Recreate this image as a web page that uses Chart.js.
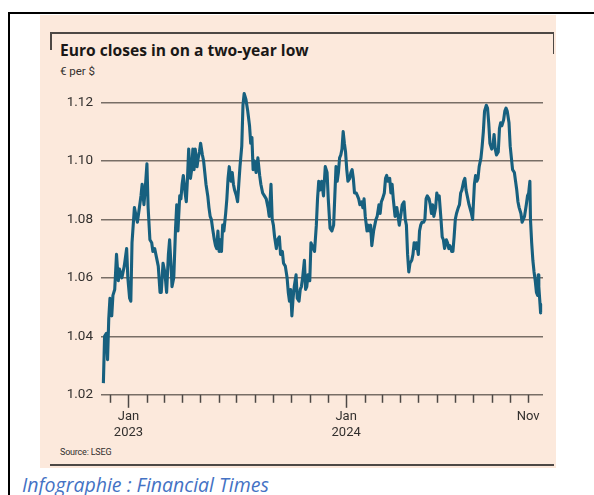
<!DOCTYPE html>
<html>
<head>
<meta charset="utf-8">
<script src="https://cdn.jsdelivr.net/npm/chart.js@4.4.1/dist/chart.umd.min.js"></script>
<style>
  html, body { margin: 0; padding: 0; background: #fff; }
  body { width: 594px; height: 495px; position: relative; overflow: hidden; font-family: Roboto, sans-serif; }
  .abs { position: absolute; }
  .rule { position: absolute; background: #4d4845; }
  #panel { left: 40px; top: 15px; width: 516px; height: 453px; background: #fce9dc; }
  #title { left: 60px; top: 39px; font: 700 15.6px "Open Sans", sans-serif; color: #1a1817; white-space: nowrap; }
  #unit { left: 60px; top: 64px; font: 11.5px Roboto, sans-serif; color: #33302e; }
  #source { left: 60px; top: 447px; font: 9px Roboto, sans-serif; color: #33302e; letter-spacing: -0.2px; }
  #caption { left: 22px; top: 471px; font: italic 19.5px "Open Sans", sans-serif; color: #4472c4; white-space: nowrap; }
  #wrap { left: 40px; top: 15px; width: 516px; height: 450px; }
</style>
</head>
<body>
<div class="abs" style="left:8px;top:12px;width:586px;height:2px;background:#000"></div>
<div class="abs" style="left:8px;top:12px;width:2px;height:483px;background:#000"></div>
<div id="panel" class="abs"></div>
<div class="rule" style="left:50px;top:32px;width:504px;height:1.5px"></div>
<div class="rule" style="left:50px;top:32px;width:1.5px;height:18px"></div>
<div class="rule" style="left:552.5px;top:32px;width:1.5px;height:22px"></div>
<div class="rule" style="left:50px;top:464px;width:504px;height:1.5px"></div>
<div id="title" class="abs">Euro closes in on a two-year low</div>
<div id="unit" class="abs">€ per $</div>
<div id="source" class="abs">Source: LSEG</div>
<div id="caption" class="abs">Infographie : Financial Times</div>
<div id="wrap" class="abs"><canvas id="fx" width="516" height="450"></canvas></div>

<script>
// days counted from 1 Jan 2023
const days = [
  -42, -40, -37, -35, -33, -31, -28, -26, -23, -20, -17, -15, -11, -7, -3, -1, 2, 4, 6, 10,
  12, 15, 17, 21, 23, 26, 28, 31, 33, 36, 39, 41, 44, 47, 50, 53, 55, 58, 61, 64,
  67, 69, 72, 73, 76, 79, 81, 83, 86, 88, 90, 92, 95, 97, 99, 101, 104, 106, 108, 110,
  112, 115, 117, 119, 121, 124, 126, 128, 130, 133, 135, 137, 139, 141, 144, 146, 148, 150, 152, 154,
  156, 158, 160, 163, 165, 167, 169, 172, 174, 176, 178, 181, 183, 185, 187, 190, 192, 194, 197, 200,
  203, 205, 207, 209, 211, 214, 217, 220, 222, 225, 228, 231, 234, 236, 239, 241, 243, 245, 248, 250,
  253, 255, 258, 260, 263, 266, 268, 270, 272, 274, 276, 278, 281, 283, 286, 288, 290, 292, 295, 297,
  299, 301, 304, 306, 308, 310, 312, 315, 317, 319, 321, 324, 327, 330, 333, 335, 338, 341, 344, 346,
  348, 350, 352, 354, 356, 358, 360, 362, 364, 366, 368, 371, 373, 375, 377, 379, 382, 384, 386, 388,
  391, 393, 395, 397, 400, 402, 404, 406, 408, 411, 413, 415, 417, 420, 422, 424, 426, 429, 431, 433,
  435, 438, 440, 442, 444, 447, 450, 452, 454, 457, 459, 462, 464, 466, 468, 470, 472, 475, 477, 479,
  481, 483, 486, 488, 490, 492, 495, 497, 499, 501, 504, 506, 508, 510, 512, 515, 517, 519, 521, 524,
  526, 528, 530, 533, 535, 537, 539, 542, 544, 546, 548, 550, 553, 555, 557, 559, 562, 564, 566, 568,
  571, 575, 577, 580, 582, 584, 586, 588, 591, 593, 595, 597, 600, 602, 604, 606, 609, 611, 613, 615,
  617, 620, 622, 624, 626, 629, 631, 633, 635, 638, 640, 642, 644, 647, 649, 651, 653, 655, 658, 660,
  662, 664, 667, 669, 671, 673, 674, 676, 678, 680, 682, 684, 686, 687, 688, 689, 690, 691
];

const eurUsd = [
  1.024, 1.040, 1.041, 1.032, 1.046, 1.053, 1.047, 1.054, 1.056, 1.068, 1.059, 1.063, 1.060, 1.064, 1.070, 1.060, 1.053, 1.052, 1.072, 1.084,
  1.082, 1.079, 1.082, 1.088, 1.092, 1.085, 1.090, 1.099, 1.084, 1.073, 1.072, 1.069, 1.070, 1.067, 1.064, 1.055, 1.055, 1.065, 1.062, 1.055,
  1.068, 1.073, 1.062, 1.057, 1.060, 1.077, 1.085, 1.076, 1.088, 1.087, 1.092, 1.095, 1.089, 1.086, 1.094, 1.104, 1.094, 1.097, 1.104, 1.097,
  1.104, 1.098, 1.101, 1.103, 1.106, 1.102, 1.100, 1.096, 1.092, 1.088, 1.084, 1.081, 1.080, 1.077, 1.073, 1.071, 1.070, 1.076, 1.069, 1.073,
  1.069, 1.078, 1.076, 1.082, 1.087, 1.094, 1.098, 1.093, 1.096, 1.092, 1.090, 1.088, 1.086, 1.092, 1.098, 1.105, 1.119, 1.123, 1.121, 1.117,
  1.112, 1.106, 1.108, 1.097, 1.100, 1.096, 1.101, 1.095, 1.092, 1.089, 1.088, 1.087, 1.084, 1.081, 1.092, 1.080, 1.078, 1.074, 1.070, 1.073,
  1.074, 1.068, 1.069, 1.065, 1.064, 1.060, 1.055, 1.052, 1.056, 1.047, 1.053, 1.057, 1.061, 1.053, 1.052, 1.056, 1.057, 1.060, 1.066, 1.056,
  1.057, 1.061, 1.059, 1.072, 1.071, 1.070, 1.069, 1.078, 1.087, 1.093, 1.090, 1.093, 1.088, 1.098, 1.096, 1.087, 1.077, 1.076, 1.078, 1.088,
  1.098, 1.093, 1.096, 1.101, 1.102, 1.104, 1.110, 1.106, 1.103, 1.097, 1.093, 1.094, 1.096, 1.097, 1.094, 1.089, 1.089, 1.088, 1.087, 1.085,
  1.086, 1.084, 1.087, 1.081, 1.076, 1.078, 1.076, 1.078, 1.071, 1.076, 1.078, 1.080, 1.081, 1.085, 1.082, 1.086, 1.087, 1.089, 1.094, 1.095,
  1.093, 1.094, 1.089, 1.092, 1.087, 1.081, 1.084, 1.081, 1.078, 1.082, 1.085, 1.086, 1.080, 1.078, 1.068, 1.062, 1.065, 1.066, 1.068, 1.072,
  1.070, 1.072, 1.068, 1.076, 1.078, 1.079, 1.079, 1.080, 1.087, 1.088, 1.087, 1.085, 1.082, 1.085, 1.081, 1.084, 1.089, 1.087, 1.088, 1.080,
  1.074, 1.073, 1.070, 1.073, 1.072, 1.070, 1.071, 1.069, 1.069, 1.074, 1.080, 1.082, 1.084, 1.085, 1.089, 1.090, 1.093, 1.094, 1.090, 1.088,
  1.085, 1.082, 1.080, 1.092, 1.095, 1.093, 1.094, 1.098, 1.101, 1.105, 1.110, 1.117, 1.119, 1.118, 1.113, 1.106, 1.104, 1.105, 1.109, 1.104,
  1.102, 1.103, 1.111, 1.113, 1.112, 1.114, 1.117, 1.118, 1.117, 1.113, 1.105, 1.101, 1.097, 1.096, 1.093, 1.090, 1.086, 1.084, 1.082, 1.079,
  1.080, 1.081, 1.085, 1.088, 1.089, 1.093, 1.080, 1.072, 1.066, 1.062, 1.059, 1.055, 1.054, 1.061, 1.057, 1.054, 1.051, 1.048
];

// first day of each month, Dec 2022 .. Nov 2024
const monthStarts = [-31, 0, 31, 59, 90, 120, 151, 181, 212, 243, 273, 304, 334,
  365, 396, 425, 456, 486, 517, 547, 578, 609, 639, 670];
const yearStarts = [0, 365];
const monthLabels = { 0: ['Jan', '2023'], 365: ['Jan', '2024'], 670: 'Nov' };
const yTicks = [1.02, 1.04, 1.06, 1.08, 1.10, 1.12];

const INK = '#33302e';
const GRID = '#786e66';

// month tick marks hanging under the baseline, longer at each new year
const monthMarks = {
  id: 'monthMarks',
  afterDraw(chart) {
    const { ctx, chartArea, scales } = chart;
    ctx.save();
    ctx.strokeStyle = '#4d4845';
    ctx.lineWidth = 1.5;
    monthStarts.forEach(d => {
      const x = Math.round(scales.x.getPixelForValue(d)) + 0.5;
      const len = yearStarts.includes(d) ? 13 : 8;
      ctx.beginPath();
      ctx.moveTo(x, chartArea.bottom);
      ctx.lineTo(x, chartArea.bottom + len);
      ctx.stroke();
    });
    ctx.restore();
  }
};

new Chart(document.getElementById('fx'), {
  type: 'line',
  data: {
    datasets: [{
      data: days.map((d, i) => ({ x: d, y: eurUsd[i] })),
      borderColor: '#17607f',
      borderWidth: 3.1,
      pointRadius: 0,
      tension: 0,
      borderJoinStyle: 'round',
      clip: false
    }]
  },
  options: {
    responsive: false,
    animation: false,
    events: [],
    layout: { padding: { top: 72.7, right: 13, left: 0, bottom: 0 } },
    plugins: { legend: { display: false }, tooltip: { enabled: false } },
    scales: {
      x: {
        type: 'linear',
        min: -46,
        max: 695,
        afterFit(axis) { axis.height = 70.2; },
        afterBuildTicks(axis) { axis.ticks = monthStarts.map(v => ({ value: v })); },
        grid: { display: false, drawTicks: false },
        border: { display: false },
        ticks: {
          autoSkip: false,
          maxRotation: 0,
          padding: 13,
          color: INK,
          font: { family: 'Roboto', size: 13, lineHeight: 1.3 },
          callback: v => monthLabels[v] || ''
        }
      },
      y: {
        min: 1.02,
        max: 1.125,
        afterFit(axis) { axis.width = 61; },
        afterBuildTicks(axis) { axis.ticks = yTicks.map(v => ({ value: v })); },
        grid: { color: GRID, lineWidth: 1.5, drawTicks: false },
        border: { display: false },
        ticks: {
          padding: 8,
          color: INK,
          font: { family: 'Roboto', size: 13.5 },
          callback: v => v.toFixed(2)
        }
      }
    }
  },
  plugins: [monthMarks]
});
</script>
</body>
</html>
